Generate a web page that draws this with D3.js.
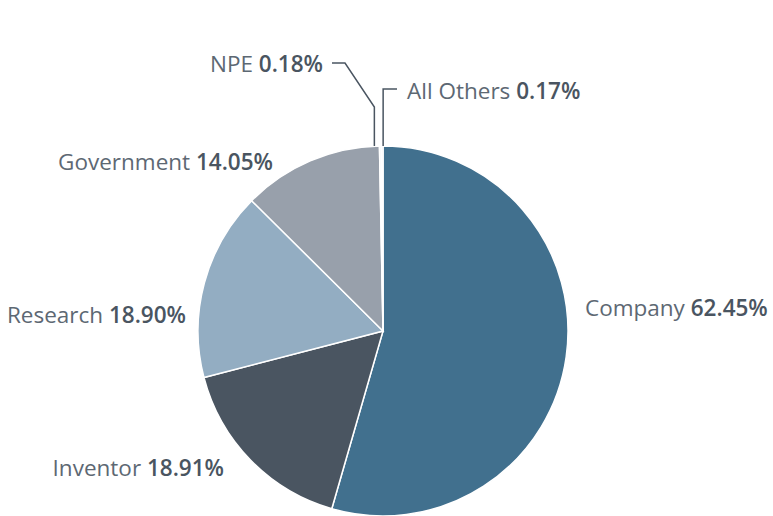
<!DOCTYPE html>
<html>
<head>
<meta charset="utf-8">
<script src="https://cdn.jsdelivr.net/npm/d3@7"></script>
<style>
  body { margin: 0; background: #fff; }
  .lbl { font-family: "Open Sans", "Noto Sans", sans-serif; font-size: 22.5px; fill: #5d6873; }
  .lbl tspan.v { font-weight: 600; fill: #4a5561; }
</style>
</head>
<body>
<div id="wrap"></div>
<script>
// Data
const categories = ["Company", "Inventor", "Research", "Government", "NPE", "All Others"]
const shares = [62.45, 18.91, 18.90, 14.05, 0.18, 0.17]
const colors = ["#41708e", "#4a5561", "#93adc2", "#98a0ab", "#dde1e6", "#e4e7eb"]

const dataset = categories.map((c, i) => ({ name: c, value: shares[i], color: colors[i] }))

// Dimensions
const dimensions = { width: 773, height: 516, cx: 383, cy: 331, radius: 185 }

const svg = d3.select("#wrap")
  .append("svg")
    .attr("width", dimensions.width)
    .attr("height", dimensions.height)

const bounds = svg.append("g")
    .attr("transform", `translate(${dimensions.cx},${dimensions.cy})`)

const pie = d3.pie()
  .sort(null)
  .value(d => d.value)

const arc = d3.arc()
  .innerRadius(0)
  .outerRadius(dimensions.radius)

const arcs = pie(dataset)

bounds.selectAll("path")
  .data(arcs)
  .enter().append("path")
    .attr("d", arc)
    .attr("fill", d => d.data.color)
    .attr("stroke", "#fff")
    .attr("stroke-width", 1.5)

// leader lines for the two thin slices (points relative to the pie centre)
const outer = a => {
  const m = (a.startAngle + a.endAngle) / 2
  return [Math.sin(m) * dimensions.radius, -Math.cos(m) * dimensions.radius]
}
const npeTop = outer(arcs[4])
const othTop = outer(arcs[5])
const npeX = npeTop[0] - 6
const othX = othTop[0] + 1
const line = d3.line()
bounds.append("path")
  .attr("d", line([[-51, -268], [-38, -268], [npeX, -224], [npeX, npeTop[1]]]))
  .attr("fill", "none").attr("stroke", "#4a5561").attr("stroke-width", 1.5)
bounds.append("path")
  .attr("d", line([[14, -242], [othX, -242], [othX, othTop[1]]]))
  .attr("fill", "none").attr("stroke", "#4a5561").attr("stroke-width", 1.5)

// Labels
const labels = [
  { i: 0, x: 585, y: 316, anchor: "start" },
  { i: 1, x: 224, y: 476, anchor: "end" },
  { i: 2, x: 186, y: 323, anchor: "end" },
  { i: 3, x: 273, y: 170, anchor: "end" },
  { i: 4, x: 323, y: 72, anchor: "end" },
  { i: 5, x: 407, y: 99, anchor: "start" },
]

labels.forEach(l => {
  const t = svg.append("text")
    .attr("class", "lbl")
    .attr("x", l.x)
    .attr("y", l.y)
    .attr("text-anchor", l.anchor)
  t.append("tspan").text(categories[l.i] + " ")
  t.append("tspan").attr("class", "v").text(d3.format(".2f")(shares[l.i]) + "%")
})
</script>
</body>
</html>
